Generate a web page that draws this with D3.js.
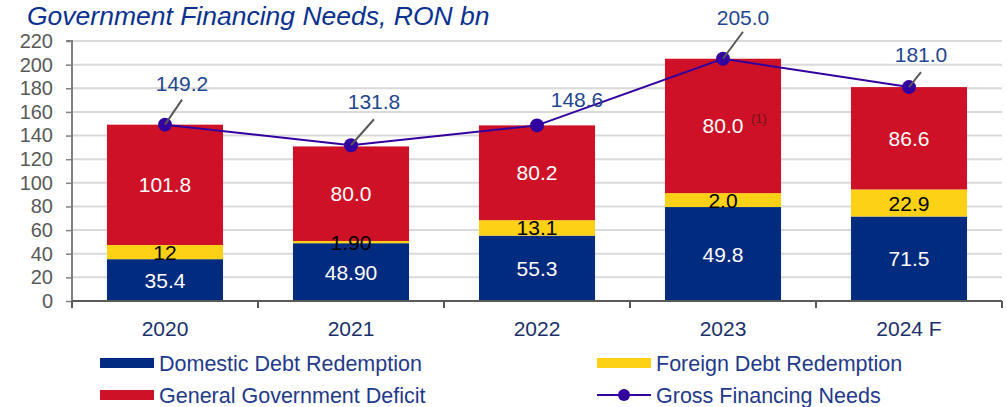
<!DOCTYPE html>
<html>
<head>
<meta charset="utf-8">
<script src="https://cdn.jsdelivr.net/npm/d3@7"></script>
<style>
  html, body { margin: 0; padding: 0; background: #fff; }
  svg { display: block; font-family: "Liberation Sans", Arial, sans-serif; }
</style>
</head>
<body>
<svg id="chart" width="1007" height="407"></svg>
<script>
// ---- data ----
const categories = ["2020", "2021", "2022", "2023", "2024 F"];
const domestic = [35.4, 48.9, 55.3, 79.5, 71.5];      // drawn heights
const foreign  = [12.0, 1.9, 13.1, 11.8, 22.9];
const deficit  = [101.8, 80.0, 80.2, 113.7, 86.6];
const domesticLabels = ["35.4", "48.90", "55.3", "49.8", "71.5"];
const foreignLabels  = ["12", "1.90", "13.1", "2.0", "22.9"];
const deficitLabels  = ["101.8", "80.0", "80.2", "80.0", "86.6"];
const gross = [149.2, 131.8, 148.6, 205.0, 181.0];
const grossLabels = ["149.2", "131.8", "148.6", "205.0", "181.0"];
const yTicks = [0, 20, 40, 60, 80, 100, 120, 140, 160, 180, 200, 220];
const seriesNames = ["Domestic Debt Redemption", "Foreign Debt Redemption", "General Government Deficit", "Gross Financing Needs"];

// ---- layout / style ----
const colors = { domestic: "#002b7f", foreign: "#fcd116", deficit: "#ce1126", line: "#3300a0", text: "#1f3a8a" };
const labelOffsets = [[17, -34], [23, -36], [40, -18], [20, -34], [12, -25]];
const leaderEnds = [[17, -25], [23, -26], null, [20, -27], [12, -15]];

const svg = d3.select("#chart");
const mLeft = 72, mRight = 1002, mTop = 41, mBottom = 301;

const x = d3.scaleBand().domain(categories).range([mLeft, mRight]).paddingInner(0.376).paddingOuter(0.188);
const xb = d3.scaleBand().domain(categories).range([mLeft, mRight]).padding(0);
const y = d3.scaleLinear().domain([0, 220]).range([mBottom, mTop]);

// title
svg.append("text").attr("x", 27).attr("y", 25)
  .attr("font-size", 26.5).attr("font-style", "italic").attr("fill", "#0b318f")
  .text("Government Financing Needs, RON bn");

// gridlines
svg.append("g").selectAll("line").data(yTicks.filter(d => d > 0)).join("line")
  .attr("x1", mLeft).attr("x2", mRight)
  .attr("y1", d => y(d)).attr("y2", d => y(d))
  .attr("stroke", "#d9d9d9").attr("stroke-width", 2);

// y axis
const yAxis = d3.axisLeft(y).tickValues(yTicks).tickSize(6).tickPadding(13).tickFormat(d3.format("d"));
const gy = svg.append("g").attr("transform", `translate(${mLeft},0)`).call(yAxis);
gy.select(".domain").attr("stroke", "#808080").attr("stroke-width", 2).attr("d", `M-6,${mTop}H0V${mBottom}`);
gy.selectAll(".tick line").attr("stroke", "#808080").attr("stroke-width", 1.5);
gy.selectAll(".tick text").attr("font-size", 20).attr("fill", "#595959").attr("font-family", "Liberation Sans, Arial");

// stacked bars
const stackData = categories.map((c, i) => ({ cat: c, domestic: domestic[i], foreign: foreign[i], deficit: deficit[i] }));
const keys = ["domestic", "foreign", "deficit"];
const stacked = d3.stack().keys(keys)(stackData);
const labelsByKey = { domestic: domesticLabels, foreign: foreignLabels, deficit: deficitLabels };
const labelColor = { domestic: "#ffffff", foreign: "#000000", deficit: "#ffffff" };

svg.append("g").selectAll("g").data(stacked).join("g")
  .attr("fill", d => colors[d.key])
  .selectAll("rect").data(d => d).join("rect")
  .attr("x", d => x(d.data.cat)).attr("width", x.bandwidth())
  .attr("y", d => y(d[1])).attr("height", d => y(d[0]) - y(d[1]));

// x axis
const gx = svg.append("g").attr("transform", `translate(0,${mBottom})`);
gx.append("line").attr("x1", mLeft).attr("x2", mRight).attr("stroke", "#595959").attr("stroke-width", 2);
const bounds = categories.map(c => xb(c)).concat([mRight]);
gx.selectAll("line.tk").data(bounds).join("line").attr("class", "tk")
  .attr("x1", d => d).attr("x2", d => d).attr("y1", 0).attr("y2", 7)
  .attr("stroke", "#595959").attr("stroke-width", 2);
gx.selectAll("text").data(categories).join("text")
  .attr("x", d => x(d) + x.bandwidth() / 2).attr("y", 35)
  .attr("text-anchor", "middle").attr("font-size", 21).attr("fill", "#1b2f6b")
  .text(d => d);

// segment labels
stacked.forEach(s => {
  svg.append("g").selectAll("text").data(s).join("text")
    .attr("x", d => x(d.data.cat) + x.bandwidth() / 2)
    .attr("y", d => (y(d[0]) + y(d[1])) / 2)
    .attr("dy", "0.36em")
    .attr("text-anchor", "middle").attr("font-size", 21)
    .attr("fill", labelColor[s.key])
    .text((d, i) => labelsByKey[s.key][i]);
});

// footnote marker on 2023 deficit
{
  const s = stacked[2][3];
  svg.append("text")
    .attr("x", x(categories[3]) + x.bandwidth() / 2 + 28)
    .attr("y", (y(s[0]) + y(s[1])) / 2 - 3)
    .attr("font-size", 13).attr("fill", "#6e1414")
    .text("(1)");
}

// gross financing line
const cx = c => x(c) + x.bandwidth() / 2;
const line = d3.line().x((d, i) => cx(categories[i])).y(d => y(d));
svg.append("path").datum(gross).attr("d", line)
  .attr("fill", "none").attr("stroke", colors.line).attr("stroke-width", 2);
svg.append("g").selectAll("circle").data(gross).join("circle")
  .attr("cx", (d, i) => cx(categories[i])).attr("cy", d => y(d)).attr("r", 7)
  .attr("fill", colors.line);

// leader lines
svg.append("g").selectAll("line").data(gross.map((v, i) => ({ v, i })).filter(d => leaderEnds[d.i])).join("line")
  .attr("x1", d => cx(categories[d.i])).attr("y1", d => y(d.v))
  .attr("x2", d => cx(categories[d.i]) + leaderEnds[d.i][0]).attr("y2", d => y(d.v) + leaderEnds[d.i][1])
  .attr("stroke", "#595959").attr("stroke-width", 2);

// gross labels
svg.append("g").selectAll("text").data(gross).join("text")
  .attr("x", (d, i) => cx(categories[i]) + labelOffsets[i][0])
  .attr("y", (d, i) => y(d) + labelOffsets[i][1])
  .attr("text-anchor", "middle").attr("font-size", 21).attr("fill", "#1f4690")
  .text((d, i) => grossLabels[i]);

// legend
const legend = svg.append("g");
const legendItems = [
  { name: seriesNames[0], type: "rect", color: colors.domestic, x: 100, y: 363 },
  { name: seriesNames[1], type: "rect", color: colors.foreign, x: 597, y: 363 },
  { name: seriesNames[2], type: "rect", color: colors.deficit, x: 100, y: 395 },
  { name: seriesNames[3], type: "line", color: colors.line, x: 597, y: 395 }
];
legendItems.forEach(it => {
  const g = legend.append("g").attr("transform", `translate(${it.x},${it.y})`);
  if (it.type === "rect") {
    g.append("rect").attr("x", 0).attr("y", -5).attr("width", 54).attr("height", 10).attr("fill", it.color);
  } else {
    g.append("line").attr("x1", 0).attr("x2", 54).attr("stroke", it.color).attr("stroke-width", 2);
    g.append("circle").attr("cx", 27).attr("r", 6).attr("fill", it.color);
  }
  g.append("text").attr("x", 59).attr("dy", "0.36em").attr("font-size", 21.5)
    .attr("fill", colors.text).text(it.name);
});
</script>
</body>
</html>
